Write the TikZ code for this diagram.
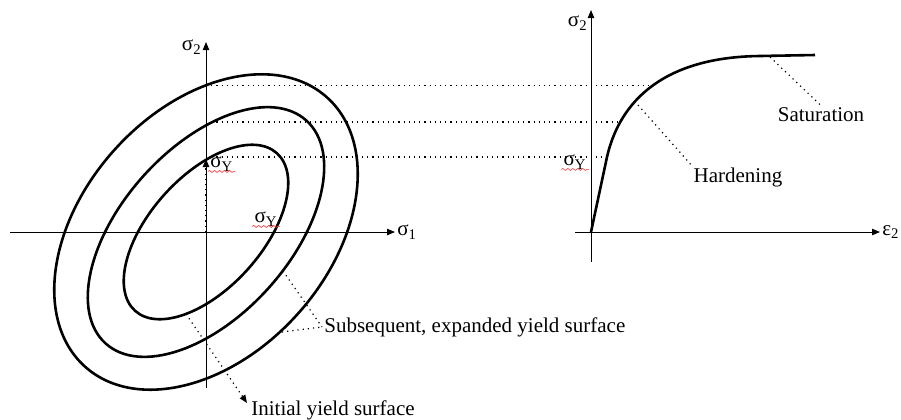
\documentclass[tikz,border=0pt]{standalone}
\usepackage{fontspec}
\setmainfont{Liberation Serif}
\usetikzlibrary{arrows.meta,decorations.pathmorphing}

\begin{document}
\begin{tikzpicture}[x=0.5pt, y=-0.5pt, >={Triangle[length=4pt,width=3.2pt]},
  font=\fontsize{10.5}{13}\selectfont,
  axis/.style={line width=0.5pt},
  surface/.style={line width=1.3pt},
  guide/.style={dotted, line width=0.6pt},
  lbl/.style={inner sep=1pt},
  squiggle/.style={red!80, line width=0.3pt, decorate,
    decoration={snake, amplitude=0.5pt, segment length=2.5pt}}]
  \useasboundingbox (0,0) rectangle (901,419);

  % stress space
  \coordinate (O) at (206,232);
  \coordinate (xl) at (10,232);
  \coordinate (xr) at (395,232);
  \coordinate (yb) at (206,388);
  \coordinate (yt) at (206,42);
  \draw[axis, ->] (xl) -- (xr);
  \draw[axis, ->] (yb) -- (yt);
  \node[lbl, right] (s1) at (xr) {σ\textsubscript{1}};
  \node[lbl, anchor=east] (s2) at (204,47) {σ\textsubscript{2}};

  \foreach \a/\b in {106/56, 150/84, 181/123}
    \draw[surface, rotate around={48:(O)}] (O) ellipse [x radius=\a, y radius=\b];

  \coordinate (Yv) at (206,159);
  \draw[guide, ->] (O) -- (Yv);
  \node[lbl, anchor=west] (sy1) at (208,164) {σ\textsubscript{Y}};
  \node[lbl] (sy2) at (266,219) {σ\textsubscript{Y}};
  \draw[squiggle] ([yshift=1pt]sy1.south west) -- ([yshift=1pt]sy1.south east);
  \draw[squiggle] ([yshift=1pt]sy2.south west) -- ([yshift=1pt]sy2.south east);

  % leaders to the surfaces
  \coordinate (mid) at (283,271);
  \coordinate (out) at (282,332);
  \coordinate (ini) at (186,314);
  \coordinate (iniend) at (247,403);
  \node[lbl, anchor=west] (sub) at (322,327) {Subsequent, expanded yield surface};
  \node[lbl, anchor=west] (init) at (249,410) {Initial yield surface};
  \draw[guide] (mid) -- (sub.west);
  \draw[guide] (out) -- (sub.west);
  \draw[guide, ->] (ini) -- (iniend);

  % stress-strain curve
  \coordinate (E0) at (591,232);
  \coordinate (el) at (575,232);
  \coordinate (ex) at (880,232);
  \coordinate (eb) at (591,262);
  \coordinate (et) at (591,10);
  \draw[axis, ->] (el) -- (ex);
  \draw[axis, ->] (eb) -- (et);
  \node[lbl, right] (eps) at (ex) {ε\textsubscript{2}};
  \node[lbl, anchor=east] (s2r) at (590,23) {σ\textsubscript{2}};
  \node[lbl, anchor=east] (sy3) at (589,162) {σ\textsubscript{Y}};
  \draw[squiggle] ([yshift=1pt]sy3.south west) -- ([yshift=1pt]sy3.south east);

  \coordinate (E1) at (607,157);
  \coordinate (E2) at (620,122);
  \coordinate (E3) at (653,85.5);
  \coordinate (E4) at (760,56);
  \coordinate (E5) at (815,55);
  \draw[surface] (E0) -- (E1) .. controls (620,100) and (665,57) .. (E4) -- (E5);

  \foreach \p in {E1,E2,E3}
    \draw[guide] (O |- \p) -- (\p);

  \coordinate (satp) at (770,57);
  \coordinate (hardp) at (638,105);
  \node[lbl] (sat) at (821,115) {Saturation};
  \node[lbl] (hard) at (738,177) {Hardening};
  \draw[guide] (satp) -- (sat.north);
  \draw[guide] (hardp) -- (hard.north west);
\end{tikzpicture}
\end{document}
